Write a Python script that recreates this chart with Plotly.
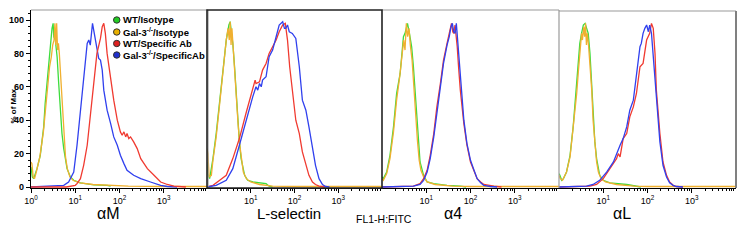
import plotly.graph_objects as go

# ---------------- data (x as log10 fluorescence, y as % of max) ----------------
series_names = ["WT/Isotype", "Gal-3<sup>-/-</sup>/Isotype", "WT/Specific Ab", "Gal-3<sup>-/-</sup>/SpecificAb"]
panel_titles = ["αM", "L-selectin", "α4", "αL"]
x_tick_labels_first = ["10<sup>0</sup>", "10<sup>1</sup>", "10<sup>2</sup>", "10<sup>3</sup>"]
x_tick_labels_other = ["10<sup>1</sup>", "10<sup>2</sup>", "10<sup>3</sup>"]
y_ticks = [0, 20, 40, 60, 80, 100]

# Panel 1: alpha M
aM_wt_iso_log = [0.0, 0.03, 0.06, 0.1, 0.136, 0.21, 0.287, 0.32, 0.362, 0.40, 0.438, 0.46, 0.475, 0.50, 0.515, 0.55, 0.59, 0.626, 0.664, 0.70, 0.74, 0.777, 0.815, 0.89, 0.966, 1.117, 1.42, 1.72, 1.8]
aM_wt_iso_pct = [12, 6, 5, 8, 11, 19, 36, 50, 62, 76, 82, 90, 95, 98, 90, 88, 78, 62, 46, 32, 23, 17, 11, 6, 4, 2.5, 1.3, 1, 0.5]
aM_ko_iso_log = [0.0, 0.02, 0.05, 0.08, 0.12, 0.2, 0.28, 0.34, 0.38, 0.42, 0.46, 0.49, 0.52, 0.54, 0.56, 0.58, 0.60, 0.62, 0.64, 0.66, 0.69, 0.72, 0.75, 0.78, 0.82, 0.88, 0.95, 1.1, 1.4, 1.8, 2.2, 3.0, 4.0]
aM_ko_iso_pct = [15, 14, 6, 5, 9, 18, 33, 50, 62, 72, 78, 85, 88, 98, 85, 98, 82, 86, 80, 70, 55, 40, 28, 18, 11, 6, 4, 2.5, 1.5, 0.8, 0.5, 0.3, 0.3]
aM_wt_ab_log = [0.0, 0.8, 1.0, 1.04, 1.117, 1.19, 1.27, 1.34, 1.42, 1.49, 1.57, 1.61, 1.645, 1.68, 1.72, 1.80, 1.87, 1.95, 2.02, 2.06, 2.10, 2.14, 2.17, 2.21, 2.25, 2.32, 2.40, 2.48, 2.63, 2.78, 2.93, 3.08, 3.23, 3.5]
aM_wt_ab_pct = [0, 0, 1, 2, 5, 13, 25, 42, 62, 80, 89, 96, 98, 92, 80, 64, 52, 40, 33, 31, 33, 30, 32, 29, 30, 27, 23, 17, 11, 7, 3, 1.5, 0.5, 0]
aM_ko_ab_log = [0.0, 0.6, 0.74, 0.85, 0.966, 1.04, 1.117, 1.19, 1.27, 1.306, 1.34, 1.39, 1.43, 1.49, 1.53, 1.57, 1.61, 1.645, 1.72, 1.80, 1.87, 1.95, 2.02, 2.10, 2.17, 2.32, 2.48, 2.70, 2.93, 3.08, 3.3]
aM_ko_ab_pct = [0, 0.5, 1, 3, 9, 25, 46, 66, 86, 88, 85, 98, 92, 82, 77, 76, 70, 58, 46, 38, 30, 25, 19, 14, 10, 7, 5, 3, 1, 0.3, 0]

# Panel 2: L-selectin
Ls_wt_iso_log = [0.0, 0.02, 0.06, 0.136, 0.21, 0.29, 0.36, 0.44, 0.5, 0.53, 0.56, 0.59, 0.63, 0.67, 0.70, 0.74, 0.78, 0.82, 0.86, 0.93, 1.05, 1.35, 1.42, 1.5]
Ls_wt_iso_pct = [15, 8, 5, 17, 32, 52, 72, 88, 97, 99, 92, 86, 72, 56, 40, 27, 17, 11, 7, 4, 3, 2, 0.5, 0]
Ls_ko_iso_log = [0.0, 0.02, 0.05, 0.1, 0.136, 0.21, 0.29, 0.36, 0.44, 0.48, 0.51, 0.53, 0.55, 0.57, 0.6, 0.64, 0.68, 0.71, 0.75, 0.79, 0.83, 0.9, 1.0, 1.2, 1.5, 2.0, 4.0]
Ls_ko_iso_pct = [23, 20, 6, 7, 16, 30, 50, 70, 88, 95, 88, 99, 85, 95, 82, 68, 52, 38, 25, 15, 9, 5, 3, 1.5, 0.5, 0.3, 0.3]
Ls_wt_ab_log = [0.0, 0.136, 0.29, 0.44, 0.59, 0.74, 0.89, 0.97, 1.045, 1.1, 1.12, 1.2, 1.27, 1.35, 1.42, 1.5, 1.58, 1.65, 1.73, 1.79, 1.84, 1.89, 1.95, 2.03, 2.07, 2.11, 2.18, 2.26, 2.33, 2.41, 2.48, 2.56, 2.7]
Ls_wt_ab_pct = [0, 1, 4, 7, 17, 29, 44, 52, 58, 64, 62, 63, 70, 74, 80, 84, 88, 93, 97, 98, 88, 72, 58, 40, 36, 32, 21, 13, 7, 3, 1.5, 0.5, 0]
Ls_ko_ab_log = [0.0, 0.21, 0.44, 0.59, 0.74, 0.89, 0.97, 1.045, 1.12, 1.16, 1.2, 1.24, 1.27, 1.35, 1.42, 1.5, 1.58, 1.65, 1.73, 1.77, 1.8, 1.84, 1.88, 1.95, 2.03, 2.11, 2.18, 2.26, 2.33, 2.41, 2.48, 2.56, 2.64, 2.71, 2.8]
Ls_ko_ab_pct = [0, 1, 4, 11, 25, 40, 48, 54, 60, 58, 62, 60, 64, 66, 78, 82, 90, 97, 99, 95, 95, 97, 93, 92, 89, 72, 52, 46, 36, 25, 13, 5, 1.5, 0.3, 0]

# Panel 3: alpha 4
a4_wt_iso_log = [0.0, 0.03, 0.106, 0.18, 0.26, 0.33, 0.41, 0.485, 0.52, 0.576, 0.62, 0.67, 0.71, 0.75, 0.79, 0.83, 0.86, 0.94, 1.02, 1.17, 1.47, 1.77, 1.9]
a4_wt_iso_pct = [6, 5, 9, 19, 36, 56, 68, 90, 92, 98, 92, 84, 72, 56, 38, 25, 15, 7, 3, 2, 1, 0.5, 0]
a4_ko_iso_log = [0.0, 0.03, 0.106, 0.18, 0.26, 0.33, 0.40, 0.45, 0.49, 0.52, 0.55, 0.58, 0.61, 0.64, 0.68, 0.72, 0.76, 0.80, 0.84, 0.88, 0.94, 1.02, 1.2, 1.6, 2.0, 4.0]
a4_ko_iso_pct = [5, 4, 8, 17, 33, 52, 66, 80, 88, 82, 98, 90, 95, 85, 76, 60, 42, 28, 16, 10, 6, 3, 1.5, 0.5, 0.3, 0.3]
a4_wt_ab_log = [0.0, 0.71, 0.86, 0.94, 1.02, 1.09, 1.17, 1.24, 1.32, 1.39, 1.47, 1.52, 1.545, 1.57, 1.60, 1.62, 1.65, 1.68, 1.70, 1.73, 1.77, 1.85, 1.92, 2.0, 2.08, 2.15, 2.23, 2.30, 2.53, 2.7]
a4_wt_ab_pct = [0, 0.5, 2, 5, 10, 19, 32, 48, 62, 76, 86, 92, 96, 98, 93, 92, 97, 90, 84, 72, 58, 38, 25, 15, 9, 5, 3, 1.5, 0.5, 0]
a4_ko_ab_log = [0.0, 0.71, 0.86, 0.94, 1.02, 1.09, 1.17, 1.24, 1.32, 1.39, 1.47, 1.52, 1.56, 1.59, 1.62, 1.65, 1.68, 1.71, 1.74, 1.78, 1.85, 1.92, 2.0, 2.08, 2.15, 2.23, 2.30, 2.45, 2.6]
a4_ko_ab_pct = [0, 0.5, 1.5, 4, 9, 17, 30, 45, 60, 74, 85, 90, 96, 98, 93, 92, 98, 88, 74, 60, 40, 26, 16, 10, 5, 2.5, 1, 0.3, 0]

# Panel 4: alpha L
aL_wt_iso_log = [0.0, 0.02, 0.06, 0.1, 0.17, 0.25, 0.32, 0.4, 0.44, 0.47, 0.51, 0.55, 0.59, 0.62, 0.66, 0.70, 0.74, 0.77, 0.81, 0.85, 0.89, 0.92, 1.0, 1.15, 1.53, 1.75, 1.85]
aL_wt_iso_pct = [8, 7, 4, 5, 9, 19, 36, 60, 72, 86, 92, 97, 98, 95, 92, 80, 62, 42, 27, 17, 11, 7, 4, 2.5, 1.5, 0.5, 0]
aL_ko_iso_log = [0.0, 0.03, 0.08, 0.17, 0.25, 0.32, 0.4, 0.44, 0.48, 0.51, 0.53, 0.56, 0.58, 0.60, 0.62, 0.64, 0.67, 0.70, 0.74, 0.77, 0.81, 0.85, 0.89, 0.95, 1.05, 1.3, 1.7, 2.0, 4.0]
aL_ko_iso_pct = [7, 5, 4, 9, 18, 34, 56, 70, 82, 92, 88, 96, 90, 98, 85, 92, 84, 75, 58, 40, 25, 15, 9, 5, 3, 1.5, 0.5, 0.3, 0.3]
aL_wt_ab_log = [0.0, 0.70, 0.85, 1.0, 1.15, 1.30, 1.34, 1.38, 1.45, 1.53, 1.60, 1.68, 1.75, 1.83, 1.90, 1.98, 2.05, 2.09, 2.13, 2.17, 2.20, 2.28, 2.35, 2.43, 2.50, 2.58, 2.65, 2.8]
aL_wt_ab_pct = [0, 0.5, 1.5, 5, 11, 17, 20, 18, 29, 32, 42, 48, 56, 72, 74, 88, 92, 98, 95, 80, 58, 32, 15, 7, 3, 1, 0.3, 0]
aL_ko_ab_log = [0.0, 0.62, 0.77, 0.92, 1.08, 1.23, 1.38, 1.45, 1.53, 1.60, 1.68, 1.75, 1.83, 1.86, 1.90, 1.94, 1.98, 2.02, 2.05, 2.09, 2.13, 2.20, 2.28, 2.35, 2.43, 2.50, 2.58, 2.65, 2.8]
aL_ko_ab_pct = [0, 0.5, 1.5, 4, 9, 15, 25, 29, 36, 46, 52, 66, 84, 86, 92, 95, 97, 93, 97, 92, 78, 52, 27, 13, 6, 2.5, 1, 0.3, 0]

panels = [
    [(aM_wt_iso_log, aM_wt_iso_pct), (aM_ko_iso_log, aM_ko_iso_pct), (aM_ko_ab_log, aM_ko_ab_pct), (aM_wt_ab_log, aM_wt_ab_pct)],
    [(Ls_wt_iso_log, Ls_wt_iso_pct), (Ls_ko_iso_log, Ls_ko_iso_pct), (Ls_wt_ab_log, Ls_wt_ab_pct), (Ls_ko_ab_log, Ls_ko_ab_pct)],
    [(a4_wt_iso_log, a4_wt_iso_pct), (a4_ko_iso_log, a4_ko_iso_pct), (a4_wt_ab_log, a4_wt_ab_pct), (a4_ko_ab_log, a4_ko_ab_pct)],
    [(aL_wt_iso_log, aL_wt_iso_pct), (aL_ko_iso_log, aL_ko_iso_pct), (aL_wt_ab_log, aL_wt_ab_pct), (aL_ko_ab_log, aL_ko_ab_pct)],
]
panel_colors = [
    ["#3ddc3d", "#f0b030", "#3040ee", "#f03a30"],
    ["#3ddc3d", "#f0b030", "#f03a30", "#3040ee"],
    ["#3ddc3d", "#f0b030", "#f03a30", "#3040ee"],
    ["#3ddc3d", "#f0b030", "#f03a30", "#3040ee"],
]
legend_colors = ["#22cc22", "#e8b000", "#dd2020", "#2030cc"]

# ---------------- layout geometry ----------------
W, H = 744, 242
px_domains = [(31, 208), (207, 382), (382, 559), (559, 736)]
y_top, y_bot = 10, 188
title_x = [96, 289, 453, 632]
title_size = [16, 15, 16, 16]
FONT = "Liberation Sans, Arial, sans-serif"

fig = go.Figure()
minor_vals = [m * 10 ** d for d in range(4) for m in range(2, 10)]

for i, series in enumerate(panels):
    n = "" if i == 0 else str(i + 1)
    for j, (lx, py) in enumerate(series):
        fig.add_trace(go.Scatter(
            x=[10 ** v for v in lx], y=py, mode="lines",
            line=dict(color=panel_colors[i][j], width=1.3),
            xaxis="x" + n, yaxis="y" + n, showlegend=False, hoverinfo="skip"))
    d0, d1 = px_domains[i]
    if i == 0:
        tv, tt = [1, 10, 100, 1000], x_tick_labels_first
    else:
        tv, tt = [10, 100, 1000], x_tick_labels_other
    fig.update_layout(**{
        "xaxis" + n: dict(
            type="log", range=[0, 4], domain=[d0 / W, d1 / W], anchor="y" + n,
            automargin=False,
            tickvals=tv, ticktext=tt, ticks="outside", ticklen=4, tickwidth=1,
            tickcolor="black", showline=True, linecolor="black", linewidth=1.2,
            showgrid=False, zeroline=False,
            tickfont=dict(family=FONT, size=9, color="black"),
            minor=dict(tickvals=minor_vals, ticks="outside", ticklen=2,
                       tickcolor="black", showgrid=False)),
        "yaxis" + n: dict(
            range=[-0.6, 106], domain=[(H - y_bot) / H, (H - y_top) / H],
            anchor="x" + n, showgrid=False, zeroline=False, automargin=False,
            showline=(i == 0), linecolor="black", linewidth=1.2,
            tickvals=y_ticks if i == 0 else [],
            ticktext=["<b>%d</b>" % v for v in y_ticks] if i == 0 else [],
            ticks="outside" if i == 0 else "", ticklen=4, tickcolor="black",
            showticklabels=(i == 0),
            tickfont=dict(family=FONT, size=9, color="black"),
            minor=dict(dtick=4, ticks="outside" if i == 0 else "", ticklen=2,
                       tickcolor="black", showgrid=False)),
    })
    fig.add_annotation(x=title_x[i] / W, y=(H - 223) / H, xref="paper", yref="paper",
                       text=panel_titles[i], showarrow=False, borderpad=0,
                       font=dict(family=FONT, size=title_size[i], color="black"))

# frames
def seg(x0, y0, x1, y1, color, width):
    fig.add_shape(type="line", xref="paper", yref="paper",
                  x0=x0 / W, y0=(H - y0) / H, x1=x1 / W, y1=(H - y1) / H,
                  line=dict(color=color, width=width))

gray = "#9a9a9a"
# panel 1: top and right
seg(31, y_top, 208, y_top, gray, 1.2)
seg(208, y_top, 208, y_bot, gray, 1.2)
# panel 3
seg(382, y_top, 559, y_top, gray, 1.2)
seg(559, y_top, 559, y_bot, gray, 1.2)
# panel 4
seg(559, y_top + 1, 736, y_top + 1, gray, 1.2)
seg(736, y_top + 1, 736, y_bot, "#808080", 2)
# panel 2: black frame
fig.add_shape(type="rect", xref="paper", yref="paper",
              x0=207 / W, x1=382 / W, y0=(H - y_bot) / H, y1=(H - y_top) / H,
              line=dict(color="#222222", width=1.6))

# y axis title
fig.add_annotation(x=6 / W, y=(H - 106) / H, xref="paper", yref="paper",
                   text="<b>% of Max</b>", textangle=-90, showarrow=False,
                   font=dict(family=FONT, size=8, color="black"))
# common x title
fig.add_annotation(x=384 / W, y=(H - 227) / H, xref="paper", yref="paper",
                   text="FL1-H:FITC", showarrow=False,
                   font=dict(family=FONT, size=10.5, color="black"))

# legend
leg_y = [20, 32, 43.5, 55]
for k, name in enumerate(series_names):
    fig.add_shape(type="circle", xref="paper", yref="paper",
                  x0=113.5 / W, x1=120 / W,
                  y0=(H - leg_y[k] - 3.2) / H, y1=(H - leg_y[k] + 3.2) / H,
                  fillcolor=legend_colors[k], line=dict(color="#333333", width=1))
    fig.add_annotation(x=121 / W, y=(H - leg_y[k]) / H, xref="paper", yref="paper",
                       xanchor="left", yanchor="middle", text="<b>" + name + "</b>",
                       showarrow=False, font=dict(family=FONT, size=9.5, color="black"))

fig.update_layout(width=W, height=H, margin=dict(l=0, r=0, t=0, b=0, autoexpand=False),
                  paper_bgcolor="white", plot_bgcolor="white", showlegend=False)

fig.write_html("out.html", config={"displayModeBar": False},
               post_script="document.body.style.margin='0px';document.body.style.padding='0px';")
